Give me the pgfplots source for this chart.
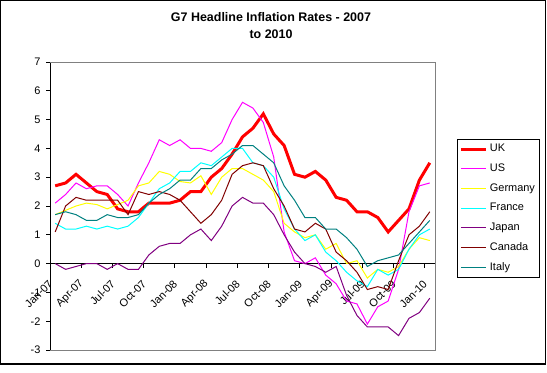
\documentclass[border=0pt]{standalone}
\usepackage{pgfplots}
\pgfplotsset{compat=1.18}
\usepackage{pgfplotstable}
\usepackage{fontspec}
\setmainfont{Liberation Sans}
\definecolor{cUK}{HTML}{FF0000}
\definecolor{cUS}{HTML}{FF00FF}
\definecolor{cDE}{HTML}{FFFF00}
\definecolor{cFR}{HTML}{00FFFF}
\definecolor{cJP}{HTML}{800080}
\definecolor{cCA}{HTML}{800000}
\definecolor{cIT}{HTML}{008080}
\pgfplotstableread{
x UK US DE FR JP CA IT
0.5 2.7 2.1 1.7 1.4 0.0 1.1 1.7
1.5 2.8 2.4 1.85 1.2 -0.2 2.0 1.8
2.5 3.1 2.8 2.0 1.2 -0.1 2.3 1.7
3.5 2.8 2.6 2.1 1.3 0.0 2.2 1.5
4.5 2.5 2.7 2.05 1.2 0.0 2.2 1.5
5.5 2.4 2.7 1.9 1.3 -0.2 2.2 1.7
6.5 1.9 2.4 2.05 1.2 0.0 2.2 1.6
7.5 1.8 2.0 2.2 1.3 -0.2 1.7 1.6
8.5 1.8 2.8 2.7 1.6 -0.2 2.5 1.7
9.5 2.1 3.5 2.8 2.1 0.3 2.4 2.1
10.5 2.1 4.3 3.2 2.6 0.6 2.5 2.4
11.5 2.1 4.1 3.1 2.8 0.7 2.4 2.6
12.5 2.2 4.3 2.85 3.2 0.7 2.2 2.9
13.5 2.5 4.0 2.8 3.2 1.0 1.8 2.9
14.5 2.5 4.0 3.05 3.5 1.2 1.4 3.3
15.5 3.0 3.9 2.4 3.4 0.8 1.7 3.3
16.5 3.3 4.2 3.0 3.7 1.3 2.2 3.6
17.5 3.8 5.0 3.3 4.0 2.0 3.1 3.8
18.5 4.4 5.6 3.3 4.0 2.3 3.4 4.1
19.5 4.7 5.4 3.1 3.5 2.1 3.5 4.1
20.5 5.2 4.9 2.9 3.4 2.1 3.4 3.8
21.5 4.5 3.7 2.5 3.0 1.7 2.6 3.5
22.5 4.1 1.1 1.4 1.9 1.0 2.0 2.7
23.5 3.1 0.1 1.1 1.2 0.4 1.2 2.2
24.5 3.0 0.0 0.9 0.8 0.0 1.1 1.6
25.5 3.2 0.2 1.0 1.0 -0.1 1.4 1.6
26.5 2.9 -0.4 0.5 0.4 -0.3 1.2 1.2
27.5 2.3 -0.7 0.7 0.1 -0.1 0.4 1.2
28.5 2.2 -1.3 0.0 -0.3 -1.1 0.1 0.9
29.5 1.8 -1.4 0.1 -0.6 -1.8 -0.3 0.5
30.5 1.8 -2.1 -0.5 -0.8 -2.2 -0.9 -0.1
31.5 1.6 -1.5 -0.2 -0.2 -2.2 -0.8 0.1
32.5 1.1 -1.3 -0.3 -0.4 -2.2 -0.9 0.2
33.5 1.5 -0.2 -0.1 -0.2 -2.5 0.1 0.3
34.5 1.9 1.8 0.5 0.5 -1.9 1.0 0.7
35.5 2.9 2.7 0.9 1.0 -1.7 1.3 1.1
36.5 3.5 2.8 0.8 1.2 -1.2 1.8 1.5
}\infl
\begin{document}
\begin{tikzpicture}[x=1bp,y=1bp]
\useasboundingbox (0,0) rectangle (547,372);
\draw[line width=1.2bp] (0.6,8) rectangle (545.6,371.4);
\node[font=\bfseries\fontsize{12.5}{17}\selectfont, align=center] at (271,346) {G7 Headline Inflation Rates - 2007\\to 2010};
\begin{axis}[
  at={(50bp,22bp)}, anchor=south west,
  scale only axis, width=385bp, height=288bp,
  xmin=0, xmax=37, ymin=-3, ymax=7,
  axis x line*=middle, axis y line*=left,
  hide obscured x ticks=false, hide obscured y ticks=false,
  axis line style={black, line width=0.9bp},
  tick style={black, line width=0.9bp},
  tick align=outside, major tick length=4bp,
  xtick={0,3,...,36},
  xticklabels={Jan-07,Apr-07,Jul-07,Oct-07,Jan-08,Apr-08,Jul-08,Oct-08,Jan-09,Apr-09,Jul-09,Oct-09,Jan-10},
  ytick={-3,-2,...,7},
  /pgf/number format/assume math mode=true,
  tick label style={font=\fontsize{11}{13}\selectfont},
  xticklabel style={yshift=-12bp, xshift=3bp, rotate=45, anchor=east},
  yticklabel style={anchor=east, xshift=-2bp},
  legend cell align=left,
  legend image code/.code={\draw[#1] (0bp,0bp) -- (25bp,0bp);},
  legend style={at={(1.057,0.733)}, anchor=north west, draw=black, line width=0.9bp,
    font=\fontsize{11}{13}\selectfont, row sep=4.2bp, inner xsep=2bp, inner ysep=2bp,
    nodes={text height=8bp, text depth=2.5bp, inner sep=2.5bp}},
  clip=false,
]
\draw[gray, line width=0.9bp] (rel axis cs:0,1) -- (rel axis cs:1,1) -- (rel axis cs:1,0) -- (rel axis cs:0,0);
\addplot[cUK, line width=3bp] table[x=x, y=UK] {\infl};
\addlegendentry{UK}
\addplot[cUS, line width=1bp] table[x=x, y=US] {\infl};
\addlegendentry{US}
\addplot[cDE, line width=1bp] table[x=x, y=DE] {\infl};
\addlegendentry{Germany}
\addplot[cFR, line width=1bp] table[x=x, y=FR] {\infl};
\addlegendentry{France}
\addplot[cJP, line width=1bp] table[x=x, y=JP] {\infl};
\addlegendentry{Japan}
\addplot[cCA, line width=1bp] table[x=x, y=CA] {\infl};
\addlegendentry{Canada}
\addplot[cIT, line width=1bp] table[x=x, y=IT] {\infl};
\addlegendentry{Italy}
\end{axis}
\end{tikzpicture}
\end{document}
